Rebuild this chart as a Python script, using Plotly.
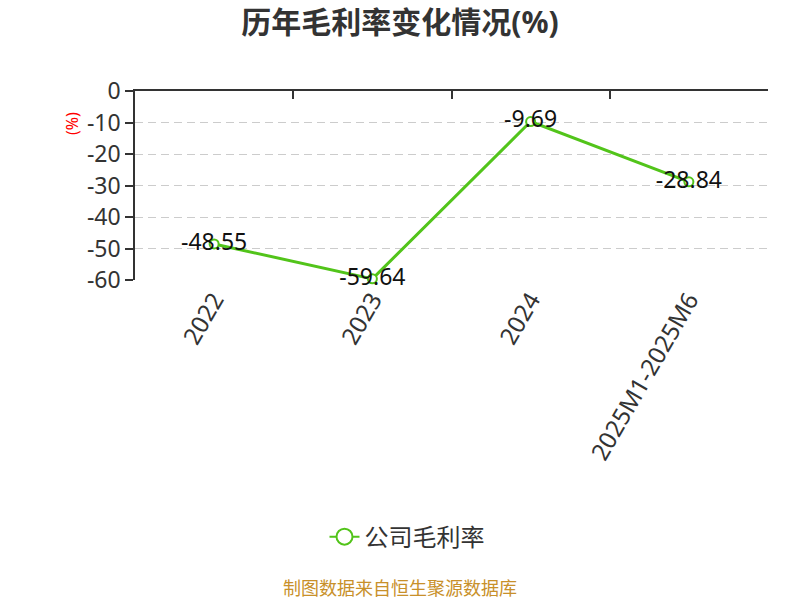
import plotly.graph_objects as go

categories = ["2022", "2023", "2024", "2025M1-2025M6"]
gross_margin = [-48.55, -59.64, -9.69, -28.84]
y_ticks = [0, -10, -20, -30, -40, -50, -60]
series_name = "公司毛利率"
title_text = "历年毛利率变化情况(%)"
source_text = "制图数据来自恒生聚源数据库"
y_unit = "(%)"

green = "#52c41a"
font_family = "Noto Sans, Noto Sans CJK SC, sans-serif"

fig = go.Figure()
fig.add_trace(go.Scatter(
    x=categories, y=gross_margin, mode="lines+markers+text",
    name=series_name, showlegend=False,
    line=dict(color=green, width=3),
    marker=dict(symbol="circle", size=9, color="white", line=dict(color=green, width=2)),
    text=[f"{v:.2f}" for v in gross_margin],
    textposition="middle center",
    textfont=dict(size=23, color="#111", family=font_family),
    cliponaxis=False,
    hoverinfo="x+y",
))
# legend entry (bigger symbol, like the reference)
fig.add_trace(go.Scatter(
    x=[None], y=[None], mode="lines+markers", name=series_name,
    line=dict(color=green, width=2),
    marker=dict(symbol="circle", size=18, color="white", line=dict(color=green, width=2)),
))
# invisible trace to anchor the top axis
fig.add_trace(go.Scatter(x=[0], y=[0], xaxis="x2", mode="markers",
                         marker=dict(opacity=0), showlegend=False, hoverinfo="skip"))

fig.update_layout(
    width=800, height=600,
    paper_bgcolor="white", plot_bgcolor="white",
    margin=dict(l=135, r=32, t=91, b=320),
    font=dict(family=font_family, color="#333"),
    title=dict(text=f"<b>{title_text}</b>", x=0.5, xanchor="center", y=0.963, yanchor="middle",
               font=dict(size=30, color="#333")),
    xaxis=dict(
        type="category", range=[-0.5, 3.5],
        showline=False, showgrid=False, ticks="",
        tickangle=-60, tickfont=dict(size=24, color="#333"),
        zeroline=False,
    ),
    xaxis2=dict(
        overlaying="x", side="top", range=[-0.5, 3.5],
        showline=True, linecolor="#333", linewidth=1.5,
        ticks="inside", ticklen=8, tickcolor="#333", tickwidth=1.5,
        tickvals=[-0.5, 0.5, 1.5, 2.5, 3.5], showticklabels=False,
        showgrid=False, zeroline=False,
    ),
    yaxis=dict(
        range=[-60, 0], tickvals=y_ticks, ticktext=[str(v) for v in y_ticks],
        showline=True, linecolor="#333", linewidth=1.5,
        ticks="outside", ticklen=8, tickcolor="#333", tickwidth=1.5,
        tickfont=dict(size=23, color="#333"),
        showgrid=True, gridcolor="#cccccc", griddash="8px,5px", gridwidth=1,
        zeroline=False,
    ),
    legend=dict(orientation="h", x=0.4297, xanchor="center", y=-1.36, yanchor="middle",
                font=dict(size=24, color="#333"), bgcolor="rgba(0,0,0,0)"),
    showlegend=True,
)
fig.add_annotation(text=y_unit, xref="paper", yref="paper", x=-0.0995, y=0.825,
                   xanchor="center", yanchor="middle", textangle=-90, showarrow=False,
                   font=dict(size=16, color="red"))
fig.add_annotation(text=source_text, xref="paper", yref="paper", x=0.4186, y=-1.63,
                   xanchor="center", yanchor="middle", showarrow=False,
                   font=dict(size=18, color="#c8902a"))

fig.write_html("out.html", config={"displayModeBar": False},
               post_script="document.body.style.margin='0px';")
